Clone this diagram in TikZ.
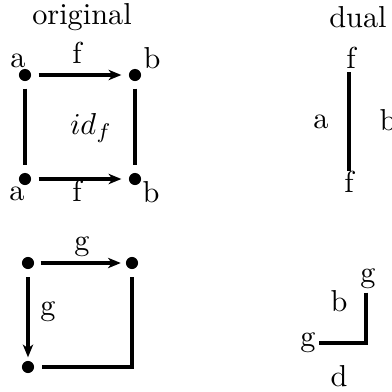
\documentclass[tikz,border=0pt]{standalone}
\usetikzlibrary{arrows.meta}
\begin{document}
\begin{tikzpicture}[x=0.33pt,y=-0.33pt,
  dot/.style={circle,fill=black,inner sep=0pt,minimum size=4pt},
  lbl/.style={inner sep=1pt},
  thickline/.style={line width=1.6pt},
  arr/.style={thickline,-{Stealth[length=4.2pt,width=3.4pt,inset=1.2pt]}},
  gap/.style={shorten <=2.3pt,shorten >=2.3pt}]
\useasboundingbox (0,0) rectangle (392,392);
% ---------- original ----------
\node[lbl] (orig) at (82,17) {original};
\node[dot] (A1) at (25,75) {};
\node[dot] (B1) at (135,75) {};
\node[dot] (A2) at (25,179) {};
\node[dot] (B2) at (135,179) {};
\node[lbl] (la1) at (18,61) {a};
\node[lbl] (lb1) at (152,58) {b};
\node[lbl] (lf1) at (77,53) {f};
\node[lbl] (la2) at (17,194) {a};
\node[lbl] (lf2) at (77,191) {f};
\node[lbl] (lb2) at (151,192) {b};
\node[lbl] (idf) at (91,128) {$id_f$};
\draw[arr,gap] (A1) -- (B1);
\draw[arr,gap] (A2) -- (B2);
\draw[thickline,gap] (A1) -- (A2);
\draw[thickline,gap] (B1) -- (B2);
% ---------- dual ----------
\node[lbl] (dual) at (358,17) {dual};
\node[lbl] (ft) at (351,58) {f};
\node[lbl] (fb) at (349,182) {f};
\node[lbl] (da) at (321,122) {a};
\node[lbl] (db) at (388,120) {b};
\draw[thickline,shorten >=-1pt] (fb.north |- ft.south) -- (fb.north);
% ---------- bottom left ----------
\node[dot] (C1) at (28,263) {};
\node[dot] (C2) at (132,263) {};
\node[dot] (C3) at (28,367) {};
\coordinate (C4) at (132,367);
\node[lbl] (g1) at (82,247) {g};
\node[lbl] (g2) at (48,312) {g};
\draw[arr,shorten <=2pt,shorten >=1.5pt] (C1) -- (C2);
\draw[arr,shorten <=2.5pt,shorten >=1pt] (C1) -- (C3);
\draw[thickline,shorten <=2.5pt,shorten >=2.5pt] (C2) -- (C4) -- (C3);
% ---------- bottom right ----------
\node[lbl] (gT) at (368,279) {g};
\node[lbl] (gL) at (308,343) {g};
\node[lbl] (bb) at (339,301) {b};
\node[lbl] (dd) at (339,376) {d};
\coordinate (D4) at (366,343);
\draw[thickline] (D4 |- gT.south) -- (D4) -- (gL.east);
\end{tikzpicture}
\end{document}
